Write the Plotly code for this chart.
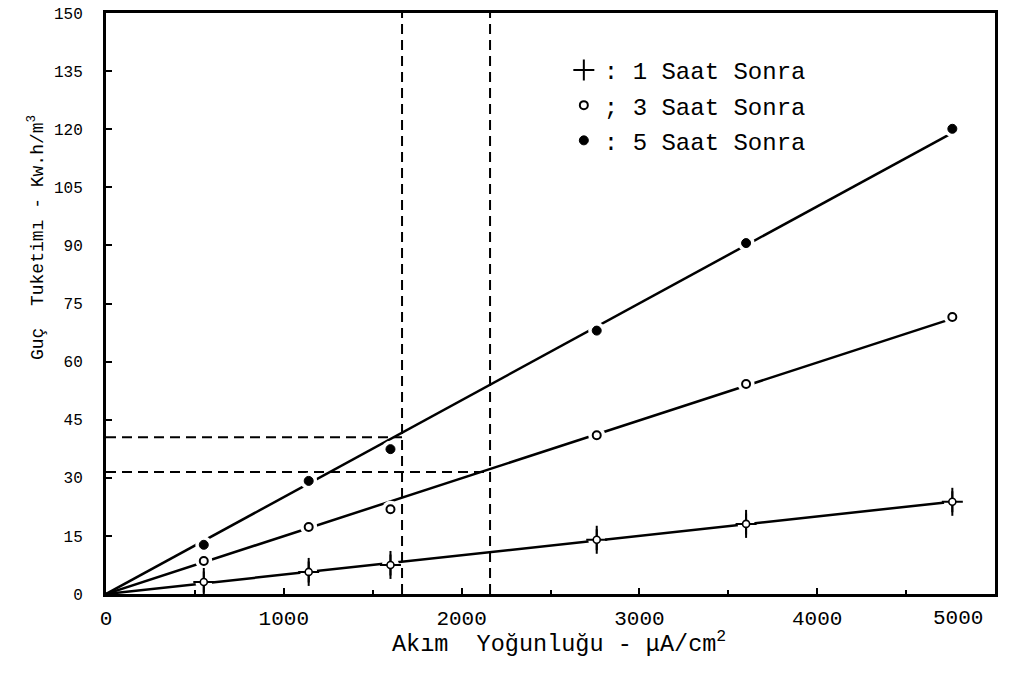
import numpy as np
import plotly.graph_objects as go

# ---- data ----
current_density = [550, 1140, 1600, 2760, 3600, 4760]          # µA/cm²
power_1h = [3.1, 5.7, 7.5, 14.0, 18.1, 23.8]                    # kW.h/m³
power_3h = [8.5, 17.3, 21.9, 41.0, 54.2, 71.5]
power_5h = [12.7, 29.2, 37.4, 68.0, 90.6, 120.1]

series_names = [": 1 Saat Sonra", "; 3 Saat Sonra", ": 5 Saat Sonra"]

# reading guide lines (dashed)
guide_x = [1665, 2160]
guide_y = [40.5, 31.5]

x_ticks = [0, 1000, 2000, 3000, 4000, 5000]
x_ticktext = ["0", "1000", "2000", "3000", "4000", ""]
x_last_label = "5000"          # drawn slightly inside the right edge, as in the original
y_ticks = list(range(0, 151, 15))

FONT = "Liberation Mono"
BLACK = "black"

fig = go.Figure()

x = np.array(current_density, dtype=float)
# straight lines through the origin fitted to each series
for ys in (power_1h, power_3h, power_5h):
    y = np.array(ys, dtype=float)
    k = float((x * y).sum() / (x * x).sum())
    xs = np.array([0.0, x.max()])
    fig.add_trace(go.Scatter(x=xs, y=k * xs, mode="lines",
                             line=dict(color=BLACK, width=2.5),
                             showlegend=False, hoverinfo="skip"))

# dashed guide lines
for gx, gy in zip(guide_x, guide_y):
    fig.add_trace(go.Scatter(x=[gx, gx], y=[0, 150], mode="lines",
                             line=dict(color=BLACK, width=2, dash="10px,6px"),
                             showlegend=False, hoverinfo="skip"))
    fig.add_trace(go.Scatter(x=[0, gx], y=[gy, gy], mode="lines",
                             line=dict(color=BLACK, width=2, dash="10px,6px"),
                             showlegend=False, hoverinfo="skip"))

# white halos -> gaps in the lines around each point
for ys in (power_1h, power_3h, power_5h):
    fig.add_trace(go.Scatter(x=current_density, y=ys, mode="markers",
                             marker=dict(symbol="circle", size=17, color="white",
                                         line=dict(width=0)),
                             showlegend=False, hoverinfo="skip"))

# 1 hour: cross with small open circle
fig.add_trace(go.Scatter(x=current_density, y=power_1h, mode="markers",
                         name=series_names[0], legendgroup="g1",
                         marker=dict(symbol="cross-thin-open", size=15, color=BLACK,
                                     line=dict(color=BLACK, width=2))))
fig.add_trace(go.Scatter(x=current_density, y=power_1h, mode="markers",
                         legendgroup="g1", showlegend=False,
                         marker=dict(symbol="line-ns-open", size=20, color=BLACK,
                                     line=dict(color=BLACK, width=2)),
                         hoverinfo="skip"))
fig.add_trace(go.Scatter(x=current_density, y=power_1h, mode="markers",
                         legendgroup="g1", showlegend=False,
                         marker=dict(symbol="circle", size=7, color="white",
                                     line=dict(color=BLACK, width=1.6)),
                         hoverinfo="skip"))
# 3 hours: open circle
fig.add_trace(go.Scatter(x=current_density, y=power_3h, mode="markers",
                         name=series_names[1], legendgroup="g3",
                         marker=dict(symbol="circle", size=8, color="white",
                                     line=dict(color=BLACK, width=2))))
# 5 hours: filled circle
fig.add_trace(go.Scatter(x=current_density, y=power_5h, mode="markers",
                         name=series_names[2], legendgroup="g5",
                         marker=dict(symbol="circle", size=9, color=BLACK,
                                     line=dict(color=BLACK, width=1))))

axis_common = dict(showline=True, linecolor=BLACK, linewidth=3, mirror=True,
                   showgrid=False, zeroline=False, ticks="inside",
                   tickcolor=BLACK, tickwidth=1.5, ticklen=6, automargin=False)

fig.update_xaxes(range=[0, 5000], tickvals=x_ticks, ticktext=x_ticktext,
                 tickfont=dict(family=FONT, size=21, color=BLACK),
                 ticklabelstandoff=3,
                 minor=dict(dtick=500, ticks="inside", ticklen=4,
                            tickcolor=BLACK, tickwidth=1.5),
                 **axis_common)
fig.update_yaxes(range=[0, 150], tickvals=y_ticks,
                 tickfont=dict(family=FONT, size=16, color=BLACK),
                 ticklabelstandoff=17,
                 **axis_common)

fig.update_layout(
    width=1021, height=675,
    margin=dict(l=106, r=26, t=13, b=81, autoexpand=False),
    paper_bgcolor="white", plot_bgcolor="white",
    font=dict(family=FONT, color=BLACK),
    legend=dict(x=0.515, y=0.94, xanchor="left", yanchor="top",
                bgcolor="rgba(0,0,0,0)", tracegroupgap=1,
                font=dict(family=FONT, size=24, color=BLACK)),
    annotations=[
        dict(text=x_last_label, xref="x", yref="paper", x=x_ticks[-1], y=-0.042,
             xanchor="center", yanchor="middle", xshift=-37, showarrow=False,
             font=dict(family=FONT, size=21, color=BLACK)),
        dict(text="Guç  Tuketimı - Kw.h/m<sup>3</sup>", textangle=-90,
             xref="paper", yref="paper", x=-0.0787, y=0.6127,
             xanchor="center", yanchor="middle", showarrow=False,
             font=dict(family=FONT, size=18, color=BLACK)),
        dict(text="Akım  Yoğunluğu - μA/cm<sup>2</sup>",
             xref="paper", yref="paper", x=0.51, y=-0.083,
             xanchor="center", yanchor="middle", showarrow=False,
             font=dict(family=FONT, size=23.5, color=BLACK)),
    ],
)

fig.write_html("out.html")
